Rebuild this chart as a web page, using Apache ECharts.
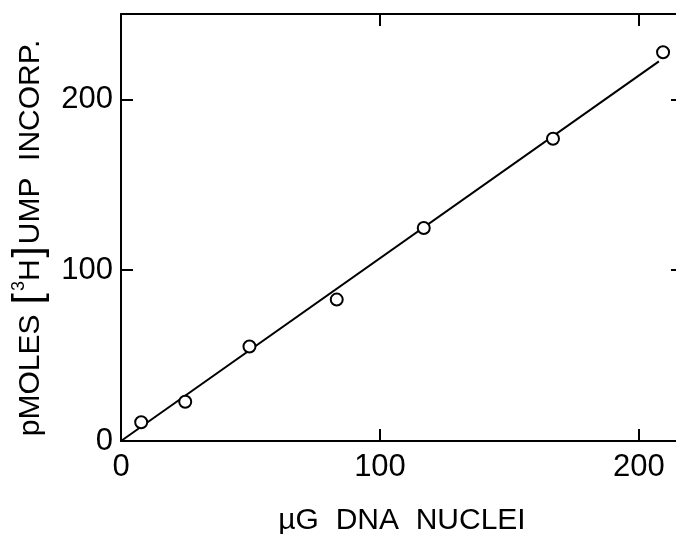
<!DOCTYPE html>
<html>
<head>
<meta charset="utf-8">
<script src="https://cdn.jsdelivr.net/npm/echarts@6/dist/echarts.min.js"></script>
<style>html,body{margin:0;padding:0;background:#fff;}#c{width:676px;height:534px;}</style>
</head>
<body>
<div id="c"></div>
<script>
// Measured points: µg DNA nuclei vs pmoles [3H]UMP incorporated
const dnaNuclei = [7.8, 24.8, 49.6, 83.3, 116.9, 166.8, 209.3];
const umpIncorp = [11.0, 23.0, 55.3, 82.8, 124.7, 177.0, 227.6];
// Fitted straight line (start and end)
const fitX = [0, 207.7];
const fitY = [0, 222.3];
const xTicks = [0, 100, 200];
const yTicks = [0, 100, 200];

const FONT = 'Liberation Sans';
const chart = echarts.init(document.getElementById('c'), null, {renderer: 'canvas'});
const axisLine = () => ({show: true, onZero: false, lineStyle: {color: '#000', width: 2}});
const tick = () => ({show: true, inside: true, length: 12, lineStyle: {color: '#000', width: 2}});
chart.setOption({
  backgroundColor: '#fff',
  animation: false,
  grid: {left: 121, top: 14, width: 562, height: 427, outerBoundsMode: 'none', containLabel: false},
  xAxis: [{
    type: 'value', min: 0, max: 217, interval: 100, position: 'bottom',
    axisLine: axisLine(), axisTick: tick(), splitLine: {show: false},
    axisLabel: {color: '#000', fontSize: 31, fontFamily: FONT, margin: 11, customValues: xTicks,
      hideOverlap: false},
    name: 'µG  DNA  NUCLEI', nameLocation: 'middle', nameGap: 65,
    nameTextStyle: {color: '#000', fontSize: 30, fontFamily: FONT}
  }, {
    type: 'value', min: 0, max: 217, interval: 100, position: 'top',
    axisLine: axisLine(), axisTick: tick(), axisLabel: {show: false}, splitLine: {show: false}
  }],
  yAxis: [{
    type: 'value', min: 0, max: 250, interval: 100, position: 'left',
    axisLine: axisLine(), axisTick: tick(), splitLine: {show: false},
    axisLabel: {color: '#000', fontSize: 31, fontFamily: FONT, margin: 8, customValues: yTicks},
    name: '{t|pMOLES }{b|[}{s|3}{t|H}{b|]}{t|UMP  INCORP.}',
    nameLocation: 'middle', nameRotate: 90, nameGap: 62,
    nameTextStyle: {color: '#000', fontSize: 30, fontFamily: FONT, padding: [0, 21, 0, 0],
      rich: {
        t: {fontSize: 30, fontFamily: FONT, color: '#000'},
        b: {fontSize: 40, fontFamily: FONT, color: '#000', padding: [0, 2, 0, 2]},
        s: {fontSize: 18, fontFamily: FONT, color: '#000', verticalAlign: 'top'}
      }}
  }, {
    type: 'value', min: 0, max: 250, interval: 100, position: 'right',
    axisLine: axisLine(), axisTick: tick(), axisLabel: {show: false}, splitLine: {show: false}
  }],
  series: [{
    type: 'line', xAxisIndex: 0, yAxisIndex: 0,
    data: fitX.map((x, i) => [x, fitY[i]]),
    symbol: 'none', lineStyle: {color: '#000', width: 2}, z: 2
  }, {
    type: 'scatter', xAxisIndex: 0, yAxisIndex: 0,
    data: dnaNuclei.map((x, i) => [x, umpIncorp[i]]),
    symbol: 'circle', symbolSize: 12,
    itemStyle: {color: '#fff', borderColor: '#000', borderWidth: 2, opacity: 1}, z: 3
  }]
});
</script>
</body>
</html>
